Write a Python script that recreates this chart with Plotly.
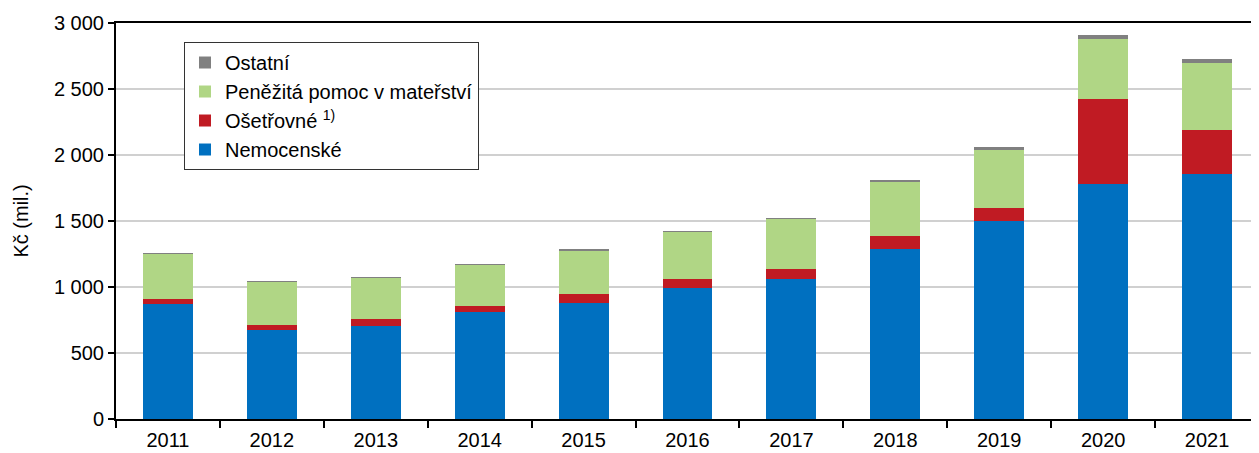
import plotly.graph_objects as go

# years and values (mil. Kč)
years = ["2011", "2012", "2013", "2014", "2015", "2016", "2017", "2018", "2019", "2020", "2021"]
nemocenske = [874, 674, 705, 808, 879, 995, 1058, 1291, 1500, 1783, 1854]
osetrovne = [35, 38, 50, 48, 66, 63, 81, 93, 96, 639, 338]
materstvi = [346, 331, 318, 314, 335, 364, 379, 417, 440, 460, 505]
ostatni = [1, 1, 1, 1, 1, 1, 1, 12, 22, 27, 28]

series = [
    ("Nemocenské", nemocenske, "#0070C0"),
    ("Ošetřovné <sup>1)</sup>", osetrovne, "#C01B23"),
    ("Peněžitá pomoc v mateřství", materstvi, "#B0D685"),
    ("Ostatní", ostatni, "#808080"),
]

fig = go.Figure()
for i, (name, vals, col) in enumerate(series):
    fig.add_trace(go.Bar(x=years, y=vals, name=name, legendgroup=str(i),
                         marker=dict(color=col, line=dict(width=0))))

font = "Liberation Sans, Arial, sans-serif"
# page body has an 8px margin, so the figure is 8px smaller than the window
fig.update_layout(
    width=1251, height=445,
    margin=dict(l=108, r=0, t=15, b=34),
    barmode="stack", bargap=0.52,
    plot_bgcolor="white", paper_bgcolor="white",
    separators=", ",
    font=dict(family=font, size=20, color="black"),
    legend=dict(x=0.0595, y=0.952, xanchor="left", yanchor="top",
                traceorder="reversed", tracegroupgap=7,
                bordercolor="#333333", borderwidth=1, bgcolor="white",
                font=dict(size=20)),
    xaxis=dict(showline=True, linecolor="black", linewidth=2, mirror=True,
               ticks="outside", tickson="boundaries", ticklen=7, tickwidth=2,
               tickcolor="black", showgrid=False, automargin=False,
               ticklabelstandoff=2),
    yaxis=dict(range=[0, 3000], dtick=500, tickformat=",d",
               showline=True, linecolor="black", linewidth=2,
               ticks="outside", ticklen=6, tickwidth=2, tickcolor="black",
               gridcolor="#d0d0d0", gridwidth=1.5, automargin=False),
    annotations=[dict(text="Kč (mil.)", textangle=-90, x=-0.0835, y=0.5,
                      xref="paper", yref="paper", showarrow=False, borderpad=0,
                      xanchor="center", yanchor="middle", font=dict(size=20))],
)

fig.write_html("out.html")
